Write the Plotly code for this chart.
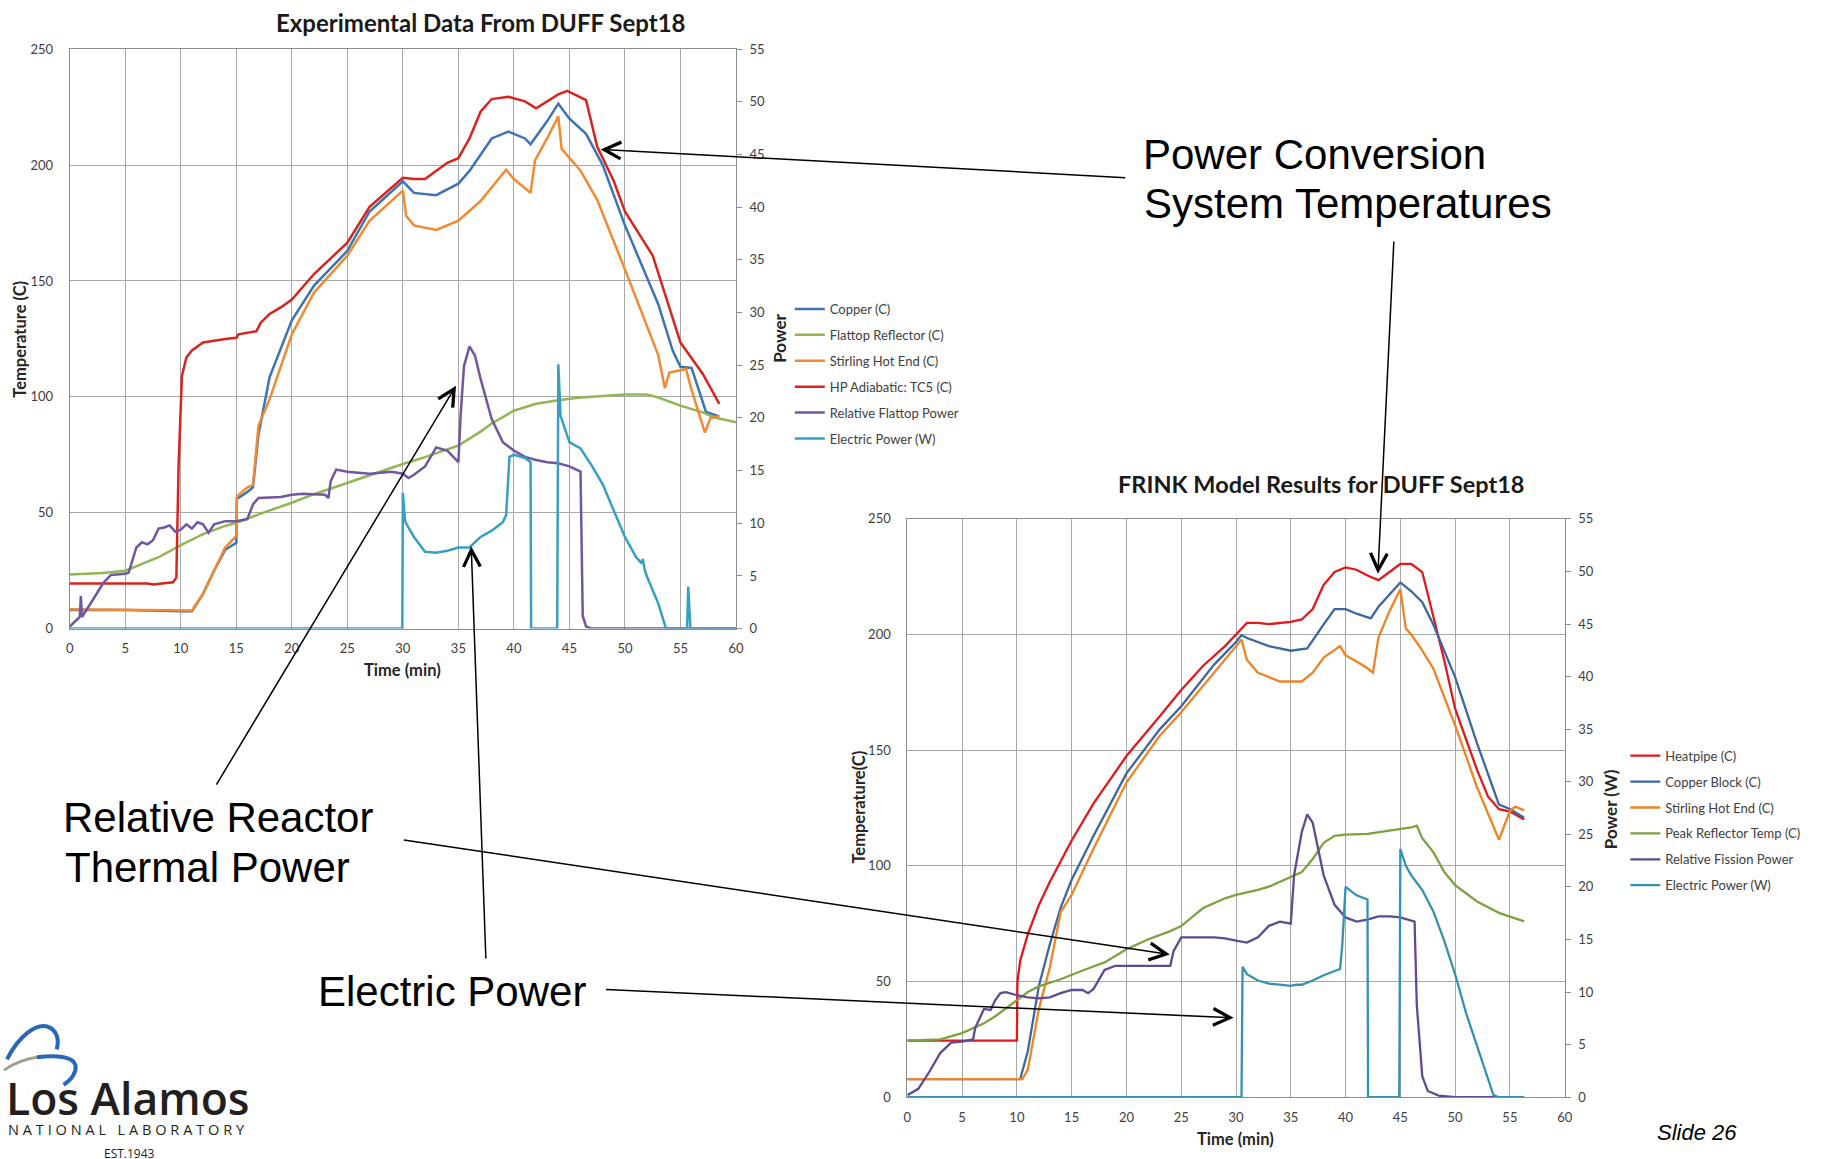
import plotly.graph_objects as go

W, H = 1828, 1159


def px(x):
    return x / W


def py(y):
    return 1 - y / H


# ---------------- Experimental data (left chart) ----------------
exp_red_t = [0, 3, 7, 7.5, 9.3, 9.6, 9.8, 10.1, 10.5, 11, 12, 14, 15, 15.2, 16.5, 16.8, 17.2, 18, 19, 20, 22, 25,
             27, 30, 31, 32, 34, 35, 36, 37, 38, 39.5, 41, 42, 44, 44.8, 46.5, 47.5, 49, 50, 52.5, 55, 57, 58.5]
exp_red_v = [19.5, 19.5, 19.5, 19, 20, 22, 70, 109, 117, 120, 123.5, 125, 125.5, 127, 128, 128.3, 132, 135.8,
             138.6, 142, 153, 166.5, 182, 194.5, 194, 194, 201, 203, 211.5, 223, 228.5, 229.5, 227.5, 224.5,
             230.5, 232, 228, 208, 193, 180, 161, 123.5, 110, 97]

exp_blue_t = [0, 5, 10, 11, 12, 13, 14, 15, 15.05, 16, 16.5, 17, 18, 20, 22, 25, 27, 30, 31, 33, 35, 36, 38,
              39.5, 41, 41.5, 43, 44, 45, 46.5, 48, 50, 53, 54.3, 55, 56, 57.3, 58.5]
exp_blue_v = [8, 8, 7.5, 7.5, 15, 25, 34, 37, 56, 59, 61, 84, 108.5, 133, 148, 163, 180, 193, 188, 187, 192,
              197.5, 211.5, 214.5, 211.5, 209, 219, 226.5, 220, 213.5, 200, 174, 140, 120, 113, 112.5, 93.5, 91.5]

exp_orange_t = [0, 5, 10, 11, 12, 13, 14, 15, 15.05, 16, 16.5, 17, 18, 20, 22, 25, 27, 30, 30.3, 31, 33, 35,
                37, 39.3, 40, 41.5, 41.9, 43, 44, 44.3, 46, 47.5, 50, 53, 53.6, 54, 55.5, 56, 57.2, 57.7, 58.5]
exp_orange_v = [8.4, 8.2, 7.8, 7.8, 15, 25, 35, 40, 57, 61, 62, 87.6, 99, 127, 145, 161, 176, 189, 178, 174,
                172, 176, 184.5, 198, 194, 188, 202, 211.6, 221, 207, 197.6, 185, 155, 118, 103.7, 110.5, 112,
                103, 84.6, 90.8, 91.8]

exp_green_t = [0, 3, 5, 7, 8, 10, 12, 14, 15, 17, 20, 22, 25, 28, 30, 32, 35, 37, 38, 40, 42, 44, 46, 48, 50,
               52, 53, 55, 57, 58, 60]
exp_green_v = [23.3, 24, 25, 28.7, 30.8, 36, 40.8, 44.3, 45.7, 49.3, 54.3, 58, 63, 68, 71, 74, 79, 85, 88.5,
               94, 97, 98.5, 99.7, 100.4, 101, 101, 99.7, 96.2, 93.3, 91.2, 89]

exp_purple_t = [0, 0.9, 1.0, 1.1, 2, 3, 3.7, 5, 5.3, 6, 6.5, 7, 7.5, 8, 8.5, 9, 9.5, 10, 10.5, 11, 11.5, 12,
                12.5, 13, 14, 15, 16, 16.5, 17, 19, 20, 21, 23, 23.3, 23.5, 24, 25, 27, 29, 30, 30.5, 31, 32,
                33, 34, 35, 35.2, 35.5, 36, 36.5, 37, 38, 39, 40, 41, 42, 43, 44, 45, 46, 46.2, 46.5, 47, 60]
exp_purple_v = [0.2, 1.1, 3.1, 1.1, 2.6, 4.3, 5.1, 5.2, 5.3, 7.7, 8.2, 8.0, 8.4, 9.5, 9.6, 9.8, 9.2, 9.4, 9.9,
                9.5, 10.1, 9.9, 9.1, 9.9, 10.2, 10.2, 10.4, 11.8, 12.4, 12.5, 12.7, 12.8, 12.7, 12.4, 14.0,
                15.1, 14.9, 14.7, 14.9, 14.7, 14.3, 14.6, 15.4, 17.2, 16.9, 15.8, 20.2, 24.9, 26.8, 25.9,
                23.7, 19.9, 17.7, 16.9, 16.3, 16.0, 15.8, 15.7, 15.4, 14.9, 1.2, 0.2, 0, 0]

exp_cyan_t = [0, 29.95, 30.0, 30.2, 30.5, 31, 32, 33, 34, 35, 36, 37, 38, 39, 39.3, 39.6, 40, 41, 41.5, 41.55,
              43.9, 44.0, 44.2, 45, 46, 47, 48, 49, 50, 51, 51.5, 51.6, 51.8, 52, 53, 53.7, 55.6, 55.7, 55.9, 60]
exp_cyan_v = [0, 0, 12.9, 10.2, 9.6, 8.7, 7.3, 7.2, 7.4, 7.7, 7.7, 8.7, 9.3, 10.1, 10.8, 16.3, 16.5, 16.2,
              15.8, 0, 0, 25.1, 20.2, 17.7, 17.1, 15.5, 13.7, 11.2, 8.7, 6.8, 6.2, 6.6, 5.5, 4.9, 2.4, 0, 0,
              4.0, 0, 0]

# ---------------- Model results (right chart) ----------------
mod_red_t = [0, 10, 10.05, 10.3, 11, 12, 13, 14, 15, 17, 20, 23, 25, 27, 29, 30, 31, 32, 33, 35, 36, 37, 38, 39,
             40, 41, 42, 43, 44, 45, 46, 47, 48, 49, 50, 52, 53, 54, 55, 56.3]
mod_red_v = [24.5, 24.5, 50, 59, 70.5, 83, 93, 102, 111, 127, 147.5, 164.5, 176, 186.5, 195, 200, 205, 205,
             204.5, 205.5, 206.5, 211, 221.5, 227, 229, 228, 225.5, 223.5, 227, 230.5, 230.5, 227, 208, 189,
             168, 141.5, 130, 124.5, 123.5, 120]

mod_blue_t = [0, 10.3, 11, 12, 13, 14, 15, 17, 20, 23, 25, 28, 30, 30.5, 31, 33, 35, 36.5, 38, 39, 40, 41,
              42.3, 43, 45, 46, 47, 48, 50, 52, 54, 55, 56.3]
mod_blue_v = [7.8, 7.8, 20, 48, 66, 82, 94, 113, 140, 158.8, 169, 187, 196.8, 199.7, 198.5, 195, 193, 194,
              204.4, 211, 211, 209, 207, 212, 222.5, 218.7, 214, 204.4, 181.6, 153, 126.5, 124.6, 120.8]

mod_orange_t = [0, 10.5, 11, 12, 13, 14, 15, 17, 20, 23, 25, 28, 30, 30.5, 31, 32, 34, 36, 37, 38, 39.5, 40,
                41, 42, 42.5, 43, 44, 45, 45.5, 46, 47, 48, 50, 52, 53.5, 54, 55, 55.5, 56.3]
mod_orange_v = [7.8, 7.8, 12, 38, 56, 80, 87.5, 107.5, 136, 156, 166.4, 183.5, 195, 197.8, 189, 183.5, 179.7,
                179.7, 183.5, 190, 195, 191, 188.3, 185.4, 183.5, 198.7, 210, 219.6, 202.6, 200, 193, 185.4,
                160.7, 134, 117, 111.3, 123.7, 125.6, 124]

mod_green_t = [0, 3, 5, 7, 8, 9, 10, 11, 12, 14, 16, 18, 20, 22, 24, 25, 27, 29, 30, 32, 33, 35, 36, 37, 38,
               39, 40, 42, 44, 45, 46, 46.5, 47, 48, 49, 50, 52, 54, 56.3]
mod_green_v = [24.5, 25, 27.7, 32, 34.9, 38.4, 42, 45.5, 47.9, 51, 54.8, 58.3, 64, 68.3, 71.8, 74, 81.8, 86,
               87.5, 89.6, 91, 95.2, 97.3, 103, 110, 113, 113.5, 113.8, 115.2, 116, 116.6, 117.4, 112, 106,
               97.4, 91.7, 84.6, 79.7, 76]

mod_purple_t = [0, 1, 2, 3, 4, 5, 6, 6.2, 7, 7.6, 8, 8.5, 9, 10, 11, 12, 13, 14, 15, 16, 16.5, 17, 18, 19, 20,
                23, 24, 24.3, 25, 28, 29, 30, 31, 32, 33, 34, 35, 35.3, 36, 36.5, 37, 38, 39, 40, 41, 42, 43,
                44, 45, 46.3, 46.5, 47, 47.5, 48.5, 50, 56.3]
mod_purple_v = [0.2, 0.8, 2.4, 4.2, 5.2, 5.3, 5.5, 6.6, 8.4, 8.3, 9.2, 9.9, 10.0, 9.7, 9.5, 9.4, 9.5, 9.9, 10.2,
                10.2, 9.9, 10.3, 12.1, 12.5, 12.5, 12.5, 12.5, 13.9, 15.2, 15.2, 15.1, 14.9, 14.7, 15.2, 16.3,
                16.7, 16.5, 21.1, 25.2, 26.9, 26.1, 21.1, 18.3, 17.1, 16.7, 16.9, 17.2, 17.2, 17.1, 16.7, 8.8,
                2.0, 0.6, 0.15, 0, 0]

mod_cyan_t = [0, 30.5, 30.6, 31, 32, 33, 34, 35, 35.5, 36, 37, 38, 39.5, 39.7, 40, 41, 42, 42.05, 44.9, 45,
              45.5, 46, 47, 48, 49, 50, 51, 52, 53, 53.5, 54, 56.3]
mod_cyan_v = [0, 0, 12.4, 11.7, 11.1, 10.8, 10.7, 10.6, 10.7, 10.7, 11.1, 11.6, 12.2, 14.5, 20.0, 19.2, 18.8,
              0, 0, 23.6, 22.0, 21.1, 19.7, 17.7, 14.9, 11.7, 8.0, 4.9, 1.7, 0.2, 0, 0]

x_ticks = list(range(0, 61, 5))
temp_ticks = list(range(0, 251, 50))
power_ticks = list(range(0, 56, 5))

exp_names = ["Copper (C)", "Flattop Reflector (C)", "Stirling Hot End (C)", "HP Adiabatic: TC5 (C)",
             "Relative Flattop Power", "Electric Power (W)"]
mod_names = ["Heatpipe (C)", "Copper Block (C)", "Stirling Hot End (C)", "Peak Reflector Temp (C)",
             "Relative Fission Power", "Electric Power (W)"]

TICKFONT = dict(family="Lato", size=13, color="#404040")
TITLEFONT = dict(family="Lato", size=16.5, color="#262626", weight="bold")

fig = go.Figure()


def add(t, v, name, color, xa, ya, legend, width):
    fig.add_trace(go.Scatter(x=t, y=v, name=name, mode="lines",
                             line=dict(color=color, width=width),
                             xaxis=xa, yaxis=ya, legend=legend,
                             legendgroup=legend + name))


# left chart
add(exp_blue_t, exp_blue_v, exp_names[0], "#3c74b4", "x", "y", "legend", 2.5)
add(exp_green_t, exp_green_v, exp_names[1], "#92b655", "x", "y", "legend", 2.5)
add(exp_orange_t, exp_orange_v, exp_names[2], "#f28a33", "x", "y", "legend", 2.5)
add(exp_red_t, exp_red_v, exp_names[3], "#d9231f", "x", "y", "legend", 2.5)
add(exp_purple_t, exp_purple_v, exp_names[4], "#7057a0", "x", "y2", "legend", 2.5)
add(exp_cyan_t, exp_cyan_v, exp_names[5], "#36a0c2", "x", "y2", "legend", 2.5)

# right chart
add(mod_red_t, mod_red_v, mod_names[0], "#e0191c", "x2", "y3", "legend2", 2.3)
add(mod_blue_t, mod_blue_v, mod_names[1], "#3d67a0", "x2", "y3", "legend2", 2.3)
add(mod_orange_t, mod_orange_v, mod_names[2], "#ee8423", "x2", "y3", "legend2", 2.3)
add(mod_green_t, mod_green_v, mod_names[3], "#7da23f", "x2", "y3", "legend2", 2.3)
add(mod_purple_t, mod_purple_v, mod_names[4], "#5f4b8f", "x2", "y4", "legend2", 2.3)
add(mod_cyan_t, mod_cyan_v, mod_names[5], "#3591ad", "x2", "y4", "legend2", 2.3)

base = dict(showline=True, linecolor="#8c8c8c", linewidth=1, mirror=True, showgrid=True,
            gridcolor="#a8a8a8", gridwidth=1, zeroline=False, tickfont=TICKFONT, ticks="")

L_X0, L_X1, L_Y0, L_Y1 = 66.2, 736.8, 41.8, 629.3
R_X0, R_X1, R_Y0, R_Y1 = 909.3, 1571.0, 518.0, 1104.5

fig.update_layout(
    width=W, height=H, margin=dict(l=0, r=0, t=0, b=0),
    paper_bgcolor="white", plot_bgcolor="white",
    xaxis=dict(base, domain=[px(L_X0), px(L_X1)], range=[0, 60], tickvals=x_ticks, anchor="y",
               ticklabelstandoff=8),
    yaxis=dict(base, domain=[py(L_Y1), py(L_Y0)], range=[0, 250], tickvals=temp_ticks, anchor="x",
               ticklabelstandoff=13),
    yaxis2=dict(overlaying="y", side="right", anchor="x", range=[0, 55], tickvals=power_ticks,
                showgrid=False, zeroline=False, showline=False, ticks="outside", ticklen=5,
                tickcolor="#8c8c8c", tickfont=TICKFONT, ticklabelstandoff=5),
    xaxis2=dict(base, domain=[px(R_X0), px(R_X1)], range=[0, 60], tickvals=x_ticks, anchor="y3",
                ticklabelstandoff=8),
    yaxis3=dict(base, domain=[py(R_Y1), py(R_Y0)], range=[0, 250], tickvals=temp_ticks, anchor="x2",
                ticklabelstandoff=13),
    yaxis4=dict(overlaying="y3", side="right", anchor="x2", range=[0, 55], tickvals=power_ticks,
                showgrid=False, zeroline=False, showline=False, ticks="outside", ticklen=5,
                tickcolor="#8c8c8c", tickfont=TICKFONT, ticklabelstandoff=5),
    legend=dict(x=px(791), y=py(290), xanchor="left", yanchor="top", font=TICKFONT,
                tracegroupgap=6, bgcolor="rgba(0,0,0,0)", itemwidth=30),
    legend2=dict(x=px(1632), y=py(743), xanchor="left", yanchor="top", font=TICKFONT,
                 tracegroupgap=6, bgcolor="rgba(0,0,0,0)", itemwidth=30),
    showlegend=True,
)

ann = []


def text(x, y, s, font, xanchor="center", yanchor="middle", angle=0, align="center"):
    ann.append(dict(x=px(x), y=py(y), xref="paper", yref="paper", text=s, showarrow=False,
                    font=font, xanchor=xanchor, yanchor=yanchor, textangle=angle, align=align))


BIG = dict(family="Liberation Sans", size=42, color="black")
CHART_TITLE = dict(family="Lato", size=24, color="#1a1a1a", weight="bold")

# chart titles
text(480, 15, "Experimental Data From DUFF Sept18", CHART_TITLE)
text(1325.5, 483, "FRINK Model Results for DUFF Sept18", dict(CHART_TITLE, size=23.5))
# axis titles
text(16, 335.5, "Temperature (C)", TITLEFONT, angle=-90)
text(781, 334.6, "Power", dict(TITLEFONT, size=17), angle=-90)
text(401, 671.5, "Time (min)", TITLEFONT)
text(860.4, 810, "Temperature(C)", TITLEFONT, angle=-90)
text(1617, 812, "Power (W)", dict(TITLEFONT, size=17), angle=-90)
text(1240, 1147, "Time (min)", TITLEFONT)

# callout text (one annotation per line)
text(1145, 148.5, "Power Conversion", BIG, xanchor="left")
text(1146, 198.5, "System Temperatures", BIG, xanchor="left")
text(57, 821, "Relative Reactor", BIG, xanchor="left")
text(59, 872, "Thermal Power", BIG, xanchor="left")
text(314, 997, "Electric Power", BIG, xanchor="left")
text(1662, 1140, "Slide 26", dict(family="Liberation Sans", size=22, color="black", style="italic"),
     xanchor="left")

# logo text
text(0, 1105, "Los Alamos", dict(family="Open Sans", size=44.5, color="#231f20", weight=600), xanchor="left")
text(2, 1137, "\u2009\u200a".join("NATIONAL LABORATORY"), dict(family="Open Sans", size=14.5, color="#231f20"),
     xanchor="left")
text(126, 1151, "EST.1943", dict(family="Open Sans", size=12, color="#231f20"), yanchor="top")

# arrows (tip, tail)
arrows = [((600.5, 143.4), (1126.7, 171.7)),
          ((1383, 573.6), (1399, 240)),
          ((455, 383), (214.5, 783.4)),
          ((1173.5, 959.8), (406, 845)),
          ((470.3, 545.8), (485, 959.5)),
          ((1237.7, 1024), (608.6, 995.6))]
for (tx, ty), (sx, sy) in arrows:
    ann.append(dict(x=px(tx), y=py(ty), xref="paper", yref="paper", ax=sx - tx, ay=sy - ty,
                    axref="pixel", ayref="pixel", showarrow=True, arrowhead=5, arrowsize=2.2,
                    arrowwidth=1.5, arrowcolor="black", text="", standoff=0))

fig.update_layout(annotations=ann)

# logo swoosh
shapes = [
    dict(type="path", xref="paper", yref="paper",
         path=(f"M {px(3)},{py(1066)} C {px(15)},{py(1042)} {px(33)},{py(1029)} {px(44)},{py(1033)} "
               f"C {px(53)},{py(1036)} {px(56)},{py(1046)} {px(53)},{py(1056)}"),
         line=dict(color="#2a67b8", width=4)),
    dict(type="path", xref="paper", yref="paper",
         path=f"M {px(0)},{py(1077)} C {px(10)},{py(1070)} {px(20)},{py(1066)} {px(33)},{py(1064)}",
         line=dict(color="#a39f8e", width=3)),
    dict(type="path", xref="paper", yref="paper",
         path=(f"M {px(33)},{py(1064)} C {px(55)},{py(1061)} {px(70)},{py(1064)} {px(72)},{py(1072)} "
               f"C {px(73)},{py(1080)} {px(67)},{py(1087)} {px(60)},{py(1092)}"),
         line=dict(color="#2a67b8", width=4)),
]
fig.update_layout(shapes=shapes)

fig.write_html("out.html")
